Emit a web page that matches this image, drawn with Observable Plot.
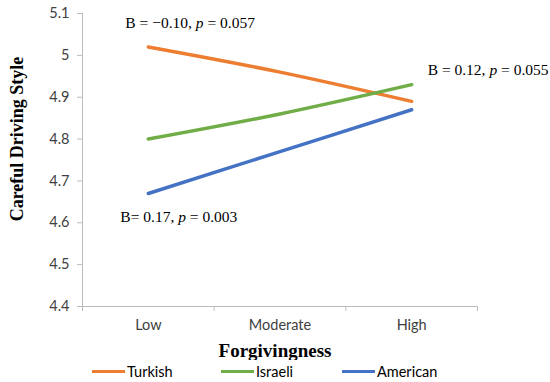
<!DOCTYPE html>
<html>
<head>
<meta charset="utf-8">
<script src="https://cdn.jsdelivr.net/npm/d3@7"></script>
<script src="https://cdn.jsdelivr.net/npm/@observablehq/plot@0.6"></script>
<style>
  body { margin: 0; background: #fff; }
  #wrap { position: relative; width: 550px; height: 382px; }
  svg { display: block; }
  g[aria-label="y-axis label"] text { font: bold 18px "Liberation Serif", serif; fill: #000; }
  g[aria-label="x-axis label"] text { font: bold 19px "Liberation Serif", serif; fill: #000; }
  .legend { position: absolute; left: 0; top: 360px; width: 550px; height: 22px; font: 14.5px Lato, sans-serif; color: #000; }
  .item { position: absolute; top: 2px; display: flex; align-items: center; height: 18px; }
  .sw { display: inline-block; width: 33px; height: 3px; margin-right: 2px; }
</style>
</head>
<body>
<div id="wrap"></div>
<script>
const categories = ["Low", "Moderate", "High"];
const series = ["Turkish", "Israeli", "American"];
const turkish = [5.02, 4.96, 4.89];
const israeli = [4.80, 4.86, 4.93];
const american = [4.67, 4.77, 4.87];
const colors = ["#ED7D31", "#70AD47", "#4472C4"];
const yTicks = [4.4, 4.5, 4.6, 4.7, 4.8, 4.9, 5.0, 5.1];
const annotationTexts = ["B = \u22120.10, p = 0.057", "B = 0.12, p = 0.055", "B= 0.17, p = 0.003"];
const annotationX = [0, 2, 0];
const annotationY = [5.077, 4.966, 4.613];

const values = [turkish, israeli, american];
const data = [];
series.forEach((s, si) => categories.forEach((c, ci) => data.push({series: s, i: ci, value: values[si][ci]})));
const annDx = [-23, 16, -28];

const textStyle = {textAnchor: "start", fontSize: 15.5, fontFamily: "Liberation Serif, serif", fill: "#000"};

const plot = Plot.plot({
  width: 550,
  height: 360,
  marginLeft: 82,
  marginRight: 73,
  marginTop: 13,
  marginBottom: 54,
  x: {domain: [-0.5, 2.5]},
  y: {domain: [4.4, 5.1]},
  color: {domain: series, range: colors},
  marks: [
    Plot.ruleY([4.4], {stroke: "#bcbcbc", strokeWidth: 1}),
    Plot.ruleX([-0.5], {stroke: "#bcbcbc", strokeWidth: 1}),
    Plot.axisY({ticks: yTicks, tickSize: 5, tickPadding: 8, stroke: "#bcbcbc",
      tickFormat: d => String(+d.toFixed(1)), fontSize: 14.5, fill: "#404040", fontFamily: "Lato, sans-serif",
      label: "Careful Driving Style", labelAnchor: "center", labelArrow: "none", labelOffset: 72}),
    Plot.axisX({ticks: [-0.5, 0.5, 1.5, 2.5], tickSize: 5, tickFormat: () => "", stroke: "#bcbcbc", label: null}),
    Plot.axisX({ticks: [0, 1, 2], tickSize: 0, tickPadding: 13, tickFormat: i => categories[i],
      fontSize: 14.5, fill: "#404040", fontFamily: "Lato, sans-serif",
      label: "Forgivingness", labelAnchor: "center", labelArrow: "none", labelOffset: 50}),
    Plot.line(data, {x: "i", y: "value", z: "series", stroke: "series", strokeWidth: 3.5, curve: "catmull-rom"}),
    ...annotationTexts.map((t, k) =>
      Plot.text([t], {x: () => annotationX[k], y: () => annotationY[k], text: d => d, dx: annDx[k], ...textStyle}))
  ]
});

document.getElementById("wrap").appendChild(plot);

// shift axis titles to match the reference placement
d3.select(plot).select('g[aria-label="y-axis label"]').attr("transform", function() {
  return (this.getAttribute("transform") || "") + " translate(0,-21)";
});
d3.select(plot).select('g[aria-label="x-axis label"]').attr("transform", function() {
  return (this.getAttribute("transform") || "") + " translate(-5,0)";
});

// italicize the "p" in annotations
d3.select(plot).selectAll('g[aria-label="text"] text').each(function() {
  const t = this.textContent;
  const idx = t.indexOf("p =");
  if (idx < 0) return;
  const sel = d3.select(this);
  sel.text(null);
  sel.append("tspan").text(t.slice(0, idx));
  sel.append("tspan").attr("font-style", "italic").text("p");
  sel.append("tspan").text(t.slice(idx + 1));
});

const legend = document.createElement("div");
legend.className = "legend";
const lx = [92, 221, 342];
series.forEach((s, i) => {
  const it = document.createElement("div");
  it.className = "item";
  it.style.left = lx[i] + "px";
  it.innerHTML = `<span class="sw" style="background:${colors[i]}"></span><span>${s}</span>`;
  legend.appendChild(it);
});
document.getElementById("wrap").appendChild(legend);
</script>
</body>
</html>
